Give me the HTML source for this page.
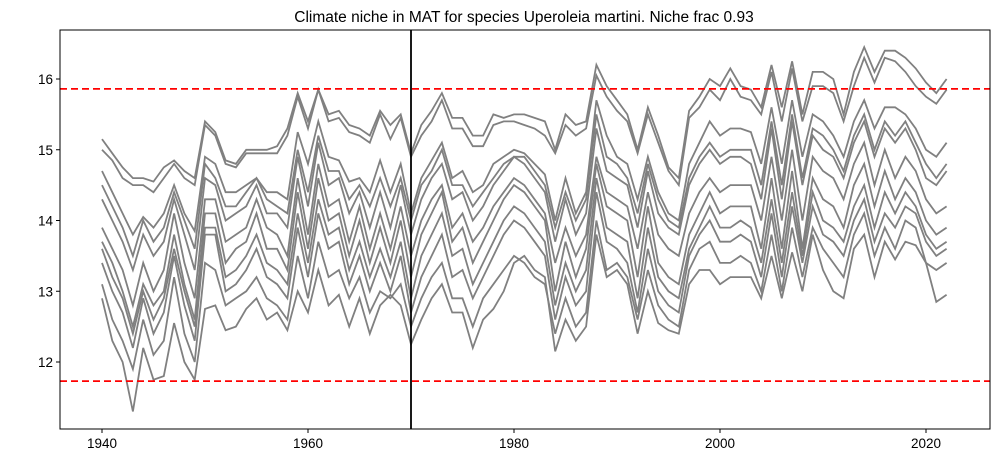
<!DOCTYPE html>
<html><head><meta charset="utf-8"><style>
body{margin:0;background:#fff;}
svg{display:block;font-family:"Liberation Sans",sans-serif;}
</style></head><body>
<svg id="chart" width="999" height="468" viewBox="0 0 999 468">
<rect x="0" y="0" width="999" height="468" fill="#fff"/>
<text x="524" y="22" text-anchor="middle" font-size="15.5" fill="#000">Climate niche in MAT for species Uperoleia martini. Niche frac 0.93</text>
<g id="lines"></g>
<g id="axes"></g>
</svg>
<script>
const years0 = 1940;
const xTicks = [1940,1960,1980,2000,2020];
const yTicks = [12,13,14,15,16];
const nicheLow = 11.73;
const nicheHigh = 15.86;
const markerYear = 1970;
const sA=[15.15,14.95,14.75,14.6,14.6,14.55,14.75,14.85,14.7,14.6,15.4,15.25,14.85,14.8,15.0,15.0,15.0,15.05,15.3,15.8,15.4,15.85,15.5,15.55,15.35,15.3,15.2,15.55,15.35,15.5,14.95,15.35,15.55,15.8,15.45,15.45,15.2,15.2,15.5,15.45,15.5,15.5,15.45,15.4,15.0,15.5,15.35,15.4,16.2,15.9,15.7,15.5,15.0,15.6,15.2,14.75,14.6,15.55,15.75,16.0,15.9,16.15,15.9,15.85,15.6,16.2,15.6,16.25,15.5,16.1,16.1,16.0,15.5,16.1,16.45,16.1,16.4,16.4,16.3,16.15,15.95,15.8,16.0];
const sB=[15.0,14.85,14.6,14.5,14.5,14.4,14.6,14.8,14.6,14.5,15.35,15.2,14.8,14.75,14.95,14.95,14.95,14.95,15.2,15.75,15.3,15.85,15.4,15.45,15.25,15.2,15.1,15.5,15.15,15.45,14.9,15.2,15.4,15.7,15.3,15.3,15.05,15.05,15.35,15.4,15.4,15.35,15.3,15.2,14.95,15.35,15.2,15.3,16.05,15.75,15.55,15.4,14.95,15.5,15.1,14.7,14.5,15.45,15.6,15.85,15.7,16.0,15.75,15.7,15.5,16.1,15.4,16.15,15.4,15.9,15.9,15.8,15.4,15.9,16.3,15.95,16.3,16.25,16.1,15.9,15.75,15.65,15.85];
const sC=[14.7,14.4,14.1,13.8,14.05,13.9,14.1,14.5,14.1,13.85,14.9,14.8,14.4,14.4,14.5,14.6,14.4,14.4,14.3,15.25,14.8,15.4,14.9,14.85,14.55,14.6,14.4,14.85,14.4,14.8,14.1,14.6,14.85,15.1,14.6,14.7,14.4,14.5,14.8,14.9,15.0,14.95,14.8,14.65,14.0,14.6,14.1,14.4,15.7,15.2,14.9,14.8,14.3,14.9,14.4,14.1,14.0,14.8,15.1,15.4,15.2,15.3,15.3,15.25,14.8,15.6,14.8,15.7,14.9,15.5,15.4,15.2,14.9,15.4,15.7,15.3,15.6,15.6,15.5,15.3,15.0,14.9,15.1];
const sJ=[14.5,14.2,13.9,13.5,14.0,13.7,13.9,14.4,14.0,13.6,14.8,14.6,14.2,14.2,14.4,14.6,14.3,14.2,14.1,15.0,14.4,15.2,14.7,14.7,14.3,14.5,14.2,14.6,14.2,14.6,14.0,14.5,14.7,15.0,14.5,14.5,14.2,14.4,14.6,14.8,14.9,14.9,14.7,14.5,13.9,14.4,14.0,14.3,15.5,14.9,14.8,14.6,14.1,14.8,14.3,14.0,13.9,14.6,14.9,15.1,14.9,15.0,15.0,15.0,14.5,15.4,14.5,15.5,14.6,15.3,15.2,15.0,14.7,15.2,15.5,15.0,15.4,15.2,15.4,15.1,14.8,14.6,14.8];
const sH=[14.3,14.0,13.7,13.3,13.8,13.5,13.7,14.3,13.8,13.3,14.6,14.5,14.0,14.1,14.2,14.5,14.1,14.1,13.9,14.9,14.2,15.1,14.5,14.6,14.1,14.4,13.9,14.4,13.9,14.5,13.8,14.3,14.6,14.8,14.3,14.4,14.0,14.2,14.5,14.7,14.9,14.8,14.6,14.4,13.7,14.3,13.8,14.1,15.3,14.7,14.6,14.5,13.9,14.7,14.1,13.9,13.8,14.5,14.8,15.0,14.8,14.9,14.9,14.8,14.3,15.3,14.3,15.4,14.5,15.2,15.0,14.9,14.6,15.1,15.4,14.9,15.3,15.1,15.3,15.0,14.6,14.5,14.7];
const sD=[13.9,13.6,13.3,12.8,13.4,13.0,13.3,14.1,13.4,12.9,14.3,14.3,13.7,13.8,13.9,14.3,13.9,13.8,13.5,14.6,13.8,14.8,14.2,14.3,13.7,14.2,13.6,14.1,13.6,14.2,13.5,14.0,14.3,14.5,13.9,14.1,13.7,13.9,14.2,14.4,14.6,14.5,14.3,14.1,13.4,13.9,13.5,13.8,14.9,14.4,14.3,14.2,13.6,14.4,13.8,13.6,13.5,14.1,14.4,14.6,14.4,14.5,14.5,14.5,14.0,14.9,14.0,15.0,14.0,14.9,14.7,14.6,14.3,14.8,15.1,14.5,15.0,14.6,14.9,14.7,14.3,14.1,14.2];
const sE=[13.7,13.4,13.0,12.5,13.1,12.8,13.0,13.8,13.1,12.6,14.1,14.1,13.4,13.6,13.7,14.1,13.6,13.6,13.3,14.4,13.6,14.6,14.0,14.1,13.5,14.0,13.4,13.9,13.4,14.0,13.2,13.8,14.1,14.4,13.7,13.9,13.4,13.7,14.0,14.3,14.5,14.4,14.2,14.0,13.0,13.7,13.2,13.6,14.8,14.2,14.1,14.0,13.2,14.2,13.4,13.2,13.1,13.8,14.1,14.4,14.1,14.2,14.2,14.2,13.6,14.6,13.6,14.7,13.6,14.6,14.3,14.2,13.9,14.5,14.8,14.2,14.7,14.3,14.6,14.4,14.0,13.8,13.9];
const sK=[13.6,13.2,12.9,12.4,13.0,12.6,12.9,13.6,13.0,12.5,13.9,13.9,13.2,13.3,13.5,13.8,13.4,13.3,13.1,14.1,13.4,14.3,13.8,13.9,13.3,13.7,13.2,13.6,13.2,13.7,12.9,13.5,13.8,14.1,13.5,13.6,13.1,13.4,13.7,14.0,14.2,14.1,13.9,13.7,12.8,13.4,13.0,13.3,14.6,13.9,13.8,13.7,12.9,13.9,13.2,13.0,12.9,13.6,13.9,14.2,13.9,13.9,14.0,13.9,13.4,14.3,13.4,14.4,13.5,14.4,14.0,13.9,13.7,14.2,14.5,13.9,14.4,14.1,14.4,14.2,13.8,13.6,13.7];
const sF=[13.4,13.0,12.7,12.2,12.9,12.4,12.7,13.5,12.8,12.3,13.8,13.8,13.0,13.1,13.3,13.6,13.2,13.1,12.9,13.9,13.2,14.1,13.6,13.7,13.1,13.5,13.0,13.4,13.0,13.5,12.7,13.2,13.5,13.8,13.2,13.3,12.9,13.2,13.5,13.8,14.0,13.9,13.7,13.5,12.6,13.2,12.8,13.0,14.4,13.7,13.6,13.4,12.7,13.6,13.0,12.8,12.7,13.5,13.8,14.0,13.7,13.7,13.8,13.7,13.2,14.1,13.2,14.2,13.4,14.2,13.8,13.7,13.5,14.0,14.3,13.7,14.1,13.9,14.2,14.1,13.7,13.5,13.6];
const sG=[13.1,12.6,12.3,11.9,12.6,12.1,12.3,13.2,12.4,12.0,13.4,13.3,12.8,12.9,13.0,13.2,12.9,12.8,12.6,13.5,12.9,13.7,13.2,13.3,12.9,13.2,12.7,13.0,12.9,13.1,12.5,12.9,13.2,13.4,12.9,12.9,12.5,12.9,13.1,13.3,13.5,13.4,13.2,13.1,12.4,12.9,12.5,12.7,14.0,13.3,13.4,13.2,12.6,13.3,12.8,12.6,12.5,13.3,13.6,13.7,13.4,13.4,13.5,13.4,13.0,13.8,13.0,13.9,13.2,13.9,13.6,13.4,13.2,13.8,14.1,13.5,13.9,13.6,14.0,13.9,13.4,13.3,13.4];
const sI=[12.9,12.3,12.0,11.3,12.2,11.75,11.8,12.55,12.0,11.75,12.75,12.8,12.45,12.5,12.75,12.9,12.6,12.7,12.45,13.0,12.7,13.3,12.8,12.95,12.5,12.9,12.4,12.8,12.95,12.8,12.25,12.6,12.9,13.1,12.7,12.7,12.2,12.6,12.75,13.0,13.4,13.5,13.3,13.2,12.15,12.6,12.3,12.5,13.8,13.2,13.3,13.1,12.4,13.0,12.55,12.45,12.4,13.1,13.3,13.3,13.1,13.2,13.2,13.2,12.9,13.5,12.9,13.55,13.0,13.8,13.3,13.0,12.9,13.6,13.8,13.2,13.7,13.45,13.7,13.65,13.4,12.85,12.95];
const seriesList=[sA,sB,sC,sJ,sH,sD,sE,sK,sF,sG,sI];

const L=60,R=990,T=30,B=429;
function xs(yr){return 102+(yr-1940)*10.3;}
function ys(v){return 362-(v-12)*70.75;}
const NS="http://www.w3.org/2000/svg";
const lines=document.getElementById('lines');
seriesList.forEach((s,i)=>{
  const p=document.createElementNS(NS,'polyline');
  p.setAttribute('points',s.map((v,j)=>xs(years0+j).toFixed(1)+','+ys(v).toFixed(1)).join(' '));
  p.setAttribute('fill','none');p.setAttribute('stroke','#808080');p.setAttribute('stroke-width','1.8');
  
  
  lines.appendChild(p);
});
const ax=document.getElementById('axes');
function add(tag,attrs,text){const e=document.createElementNS(NS,tag);for(const k in attrs)e.setAttribute(k,attrs[k]);if(text!==undefined)e.textContent=text;ax.appendChild(e);return e;}
let e;
e=add('line',{x1:L,x2:R,y1:ys(nicheHigh),y2:ys(nicheHigh),stroke:'#f00','stroke-width':1.8,'stroke-dasharray':'7,4'});


e=add('line',{x1:L,x2:R,y1:ys(nicheLow),y2:ys(nicheLow),stroke:'#f00','stroke-width':1.8,'stroke-dasharray':'7,4'});


e=add('line',{x1:xs(markerYear),x2:xs(markerYear),y1:T,y2:B,stroke:'#000','stroke-width':1.8});


e=add('rect',{x:L,y:T,width:R-L,height:B-T,fill:'none',stroke:'#000','stroke-width':1});


xTicks.forEach(t=>{
  add('line',{x1:xs(t),x2:xs(t),y1:B,y2:B+4,stroke:'#000'});
  e=add('text',{x:xs(t),y:B+19,'text-anchor':'middle','font-size':13.5},String(t));
  
  
});
yTicks.forEach(t=>{
  add('line',{x1:L-4,x2:L,y1:ys(t),y2:ys(t),stroke:'#000'});
  e=add('text',{x:L-7,y:ys(t)+5,'text-anchor':'end','font-size':13.5},String(t));
  
  
});
</script>
</body></html>
